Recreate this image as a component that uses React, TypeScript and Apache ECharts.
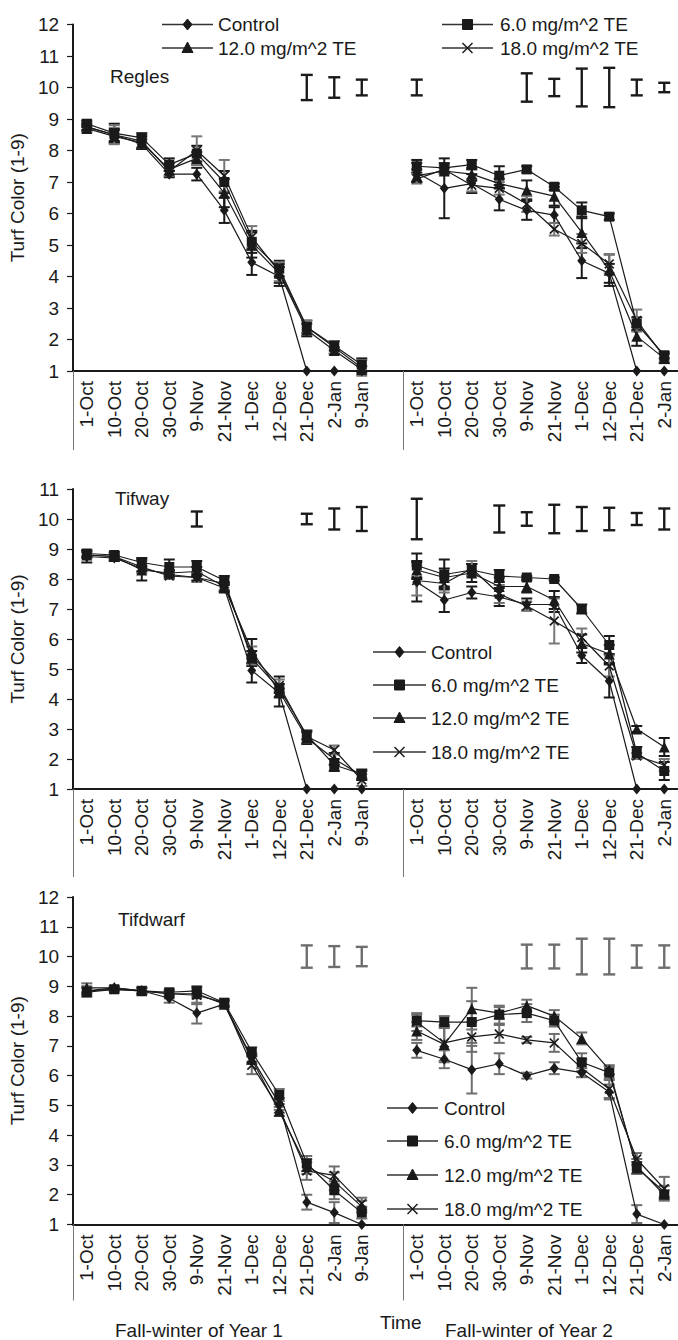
import React, { useEffect, useRef } from "react";
import * as echarts from "echarts";

// ---------- categories ----------
const datesY1 = ["1-Oct", "10-Oct", "20-Oct", "30-Oct", "9-Nov", "21-Nov", "1-Dec", "12-Dec", "21-Dec", "2-Jan", "9-Jan"];
const datesY2 = ["1-Oct", "10-Oct", "20-Oct", "30-Oct", "9-Nov", "21-Nov", "1-Dec", "12-Dec", "21-Dec", "2-Jan"];
const treatments = ["Control", "6.0 mg/m^2 TE", "12.0 mg/m^2 TE", "18.0 mg/m^2 TE"];
const yTicksRegles = [1, 12];
const yTicksTifway = [1, 11];
const yTicksTifdwarf = [1, 12];

// ---------- Regles ----------
const reglesMeanY1 = [
  [8.75, 8.5, 8.2, 7.25, 7.25, 6.1, 4.45, 4.0, 1, 1, 1],
  [8.85, 8.55, 8.4, 7.55, 7.9, 7.0, 5.1, 4.25, 2.4, 1.8, 1.2],
  [8.7, 8.45, 8.25, 7.4, 7.75, 6.65, 5.0, 4.1, 2.3, 1.65, 1.05],
  [8.75, 8.5, 8.3, 7.35, 8.0, 7.2, 5.25, 4.15, 2.4, 1.75, 1.1],
];
const reglesMeanY2 = [
  [7.3, 6.8, 6.95, 6.45, 6.1, 5.95, 4.5, 4.1, 1, 1],
  [7.5, 7.45, 7.55, 7.2, 7.4, 6.85, 6.1, 5.9, 2.5, 1.5],
  [7.2, 7.35, 7.25, 6.95, 6.75, 6.55, 5.4, 4.2, 2.1, 1.4],
  [7.1, 7.4, 6.9, 6.8, 6.3, 5.5, 5.05, 4.4, 2.6, 1.45],
];
const reglesErrY1 = [
  [0.1, 0.2, 0.15, 0.1, 0.2, 0.4, 0.4, 0.3, 0, 0, 0],
  [0.1, 0.3, 0.15, 0.2, 0.25, 0.35, 0.35, 0.25, 0.2, 0.15, 0.2],
  [0.1, 0.2, 0.2, 0.2, 0.2, 0.45, 0.4, 0.3, 0.2, 0.1, 0.1],
  [0.15, 0.3, 0.2, 0.15, 0.45, 0.5, 0.35, 0.3, 0.2, 0.2, 0.25],
];
const reglesErrY2 = [
  [0.3, 0.95, 0.3, 0.35, 0.3, 0.25, 0.55, 0.3, 0, 0],
  [0.2, 0.15, 0.15, 0.3, 0.1, 0.1, 0.25, 0.1, 0.2, 0.1],
  [0.2, 0.1, 0.2, 0.15, 0.3, 0.3, 0.5, 0.5, 0.3, 0.15],
  [0.15, 0.15, 0.2, 0.2, 0.25, 0.2, 0.3, 0.3, 0.35, 0.15],
];
const reglesLsdY1 = [null, null, null, null, null, null, null, null, 0.8, 0.65, 0.5];
const reglesLsdY2 = [0.5, null, null, null, 0.9, 0.55, 1.2, 1.25, 0.5, 0.3];

// ---------- Tifway ----------
const tifwayMeanY1 = [
  [8.75, 8.7, 8.35, 8.15, 8.05, 7.7, 4.95, 4.2, 1, 1, 1],
  [8.85, 8.8, 8.55, 8.4, 8.4, 7.95, 5.35, 4.35, 2.8, 1.8, 1.5],
  [8.8, 8.75, 8.3, 8.2, 8.25, 7.75, 5.6, 4.25, 2.7, 2.0, 1.45],
  [8.8, 8.75, 8.4, 8.1, 8.05, 7.85, 5.45, 4.45, 2.75, 2.3, 1.3],
];
const tifwayMeanY2 = [
  [7.9, 7.3, 7.55, 7.4, 7.15, 7.15, 5.45, 4.6, 1, 1],
  [8.45, 8.15, 8.3, 8.1, 8.05, 8.0, 7.0, 5.8, 2.2, 1.6],
  [8.3, 8.05, 8.2, 7.75, 7.75, 7.3, 5.85, 5.5, 3.0, 2.4],
  [7.95, 7.85, 8.35, 7.5, 7.1, 6.6, 6.05, 5.1, 2.1, 1.8],
];
const tifwayErrY1 = [
  [0.2, 0.1, 0.1, 0.1, 0.1, 0.15, 0.4, 0.15, 0, 0, 0],
  [0.1, 0.1, 0.15, 0.25, 0.2, 0.15, 0.25, 0.15, 0.15, 0.2, 0.15],
  [0.1, 0.1, 0.35, 0.1, 0.15, 0.15, 0.4, 0.5, 0.2, 0.2, 0.15],
  [0.1, 0.1, 0.2, 0.1, 0.15, 0.2, 0.3, 0.2, 0.2, 0.15, 0.2],
];
const tifwayErrY2 = [
  [0.65, 0.4, 0.2, 0.3, 0.2, 0.25, 0.25, 0.55, 0, 0],
  [0.4, 0.5, 0.2, 0.2, 0.05, 0.05, 0.15, 0.3, 0.2, 0.3],
  [0.3, 0.3, 0.3, 0.3, 0.2, 0.3, 0.3, 0.3, 0.1, 0.3],
  [0.5, 0.3, 0.25, 0.3, 0.15, 0.75, 0.3, 0.35, 0.1, 0.2],
];
const tifwayLsdY1 = [null, null, null, null, 0.5, null, null, null, 0.35, 0.7, 0.8];
const tifwayLsdY2 = [1.35, null, null, 0.9, 0.45, 0.95, 0.8, 0.75, 0.4, 0.7];

// ---------- Tifdwarf ----------
const tifdwarfMeanY1 = [
  [8.85, 8.95, 8.85, 8.6, 8.1, 8.4, 6.6, 5.05, 1.75, 1.4, 1.0],
  [8.8, 8.9, 8.85, 8.8, 8.85, 8.45, 6.8, 5.35, 3.05, 2.15, 1.4],
  [8.95, 8.95, 8.85, 8.75, 8.75, 8.4, 6.55, 4.8, 2.95, 2.45, 1.6],
  [8.85, 8.9, 8.85, 8.75, 8.7, 8.45, 6.35, 4.9, 2.8, 2.65, 1.7],
];
const tifdwarfMeanY2 = [
  [6.85, 6.55, 6.2, 6.4, 6.0, 6.25, 6.1, 5.45, 1.35, 1.0],
  [7.85, 7.8, 7.8, 8.05, 8.1, 7.85, 6.45, 6.1, 2.95, 2.0],
  [7.5, 7.05, 8.25, 8.1, 8.35, 8.0, 7.25, 6.2, 2.9, 2.1],
  [7.8, 7.1, 7.3, 7.4, 7.2, 7.1, 6.25, 5.55, 3.2, 2.2],
];
const tifdwarfErrY1 = [
  [0.1, 0.05, 0.1, 0.15, 0.35, 0.1, 0.15, 0.2, 0.25, 0.35, 0],
  [0.15, 0.05, 0.1, 0.1, 0.1, 0.1, 0.15, 0.2, 0.25, 0.3, 0.2],
  [0.15, 0.05, 0.1, 0.1, 0.1, 0.1, 0.15, 0.15, 0.25, 0.3, 0.2],
  [0.15, 0.05, 0.1, 0.1, 0.3, 0.1, 0.3, 0.15, 0.3, 0.3, 0.2],
];
const tifdwarfErrY2 = [
  [0.25, 0.3, 0.8, 0.35, 0.1, 0.2, 0.15, 0.25, 0.3, 0],
  [0.2, 0.2, 0.7, 0.3, 0.3, 0.2, 0.3, 0.2, 0.25, 0.15],
  [0.3, 0.6, 0.7, 0.2, 0.2, 0.2, 0.2, 0.15, 0.2, 0.2],
  [0.3, 0.6, 0.5, 0.3, 0.1, 0.3, 0.3, 0.3, 0.2, 0.4],
];
const tifdwarfLsdY1 = [null, null, null, null, null, null, null, null, 0.75, 0.7, 0.65];
const tifdwarfLsdY2 = [null, null, null, null, 0.8, 0.8, 1.2, 1.2, 0.75, 0.75];

const lsdCenter = 10;

// ---------- styling ----------
const FONT = '"Liberation Sans", Arial, sans-serif';
const FS = 19;
const INK = "#1a1a1a";
const GRAY = "#6e6e6e";
const xSymbol = "path://M0,1.2 L1.2,0 L5,3.8 L8.8,0 L10,1.2 L6.2,5 L10,8.8 L8.8,10 L5,6.2 L1.2,10 L0,8.8 L3.8,5 Z";
const symbols = ["diamond", "rect", "triangle", xSymbol];
const symbolSizes: any[] = [[9, 11], 10, 11, 10];

const categories = [...datesY1, "", ...datesY2];
const year2Start = datesY1.length + 1;

const panels = [
  { name: "Regles", m1: reglesMeanY1, m2: reglesMeanY2, e1: reglesErrY1, e2: reglesErrY2, l1: reglesLsdY1, l2: reglesLsdY2, ticks: yTicksRegles, top: 24.5, height: 346.5, tickLen: 79, titlePos: [110, 76], errColors: [INK, INK, INK, "#777"], lsdColor: INK },
  { name: "Tifway", m1: tifwayMeanY1, m2: tifwayMeanY2, e1: tifwayErrY1, e2: tifwayErrY2, l1: tifwayLsdY1, l2: tifwayLsdY2, ticks: yTicksTifway, top: 489, height: 300, tickLen: 88, titlePos: [115, 498], errColors: [INK, INK, INK, "#777"], lsdColor: INK },
  { name: "Tifdwarf", m1: tifdwarfMeanY1, m2: tifdwarfMeanY2, e1: tifdwarfErrY1, e2: tifdwarfErrY2, l1: tifdwarfLsdY1, l2: tifdwarfLsdY2, ticks: yTicksTifdwarf, top: 897, height: 327.5, tickLen: 76, titlePos: [118, 919], errColors: [GRAY, GRAY, GRAY, GRAY], lsdColor: GRAY },
];

const joinYears = (a: any[], b: any[]) => [...a, null, ...b];

function barRender(capW: number, lw: number, color: string) {
  return (params: any, api: any) => {
    const x = api.value(0);
    const lo = api.coord([x, api.value(1)]);
    const hi = api.coord([x, api.value(2)]);
    const h = capW / 2;
    const st = { stroke: color, lineWidth: lw };
    return {
      type: "group",
      children: [
        { type: "line", shape: { x1: lo[0], y1: lo[1], x2: hi[0], y2: hi[1] }, style: st },
        { type: "line", shape: { x1: lo[0] - h, y1: lo[1], x2: lo[0] + h, y2: lo[1] }, style: st },
        { type: "line", shape: { x1: hi[0] - h, y1: hi[1], x2: hi[0] + h, y2: hi[1] }, style: st },
      ],
    };
  };
}

function markerGraphic(kind: number, cx: number, cy: number): any[] {
  const st = { fill: INK, stroke: INK, lineWidth: 1 };
  if (kind === 0) return [{ type: "polygon", shape: { points: [[cx, cy - 5.5], [cx + 4.5, cy], [cx, cy + 5.5], [cx - 4.5, cy]] }, style: st }];
  if (kind === 1) return [{ type: "rect", shape: { x: cx - 5, y: cy - 5, width: 10, height: 10 }, style: st }];
  if (kind === 2) return [{ type: "polygon", shape: { points: [[cx, cy - 6], [cx + 5.5, cy + 4.5], [cx - 5.5, cy + 4.5]] }, style: st }];
  return [
    { type: "line", shape: { x1: cx - 5, y1: cy - 5, x2: cx + 5, y2: cy + 5 }, style: { stroke: INK, lineWidth: 1.5 } },
    { type: "line", shape: { x1: cx - 5, y1: cy + 5, x2: cx + 5, y2: cy - 5 }, style: { stroke: INK, lineWidth: 1.5 } },
  ];
}

function legendItem(kind: number, x0: number, x1: number, tx: number, y: number): any[] {
  return [
    { type: "line", shape: { x1: x0, y1: y, x2: x1, y2: y }, style: { stroke: "#333", lineWidth: 1.3 } },
    ...markerGraphic(kind, (x0 + x1) / 2, y),
    { type: "text", x: tx, y: y, style: { text: treatments[kind], fill: INK, font: `${FS}px ${FONT}`, verticalAlign: "middle", align: "left" } },
  ];
}

function buildOption() {
  const grid: any[] = [];
  const xAxis: any[] = [];
  const yAxis: any[] = [];
  const series: any[] = [];
  const graphic: any[] = [];

  panels.forEach((p, k) => {
    grid.push({ left: 66, width: 613, top: p.top, height: p.height });
    xAxis.push({
      type: "category",
      gridIndex: k,
      data: categories,
      boundaryGap: true,
      axisLine: { show: true, onZero: false, lineStyle: { color: INK, width: 2 } },
      axisTick: {
        show: true,
        interval: (i: number) => i === 0 || i === year2Start,
        length: p.tickLen,
        lineStyle: { color: "#777", width: 1 },
      },
      axisLabel: { interval: 0, rotate: 90, margin: 10, color: INK, fontSize: FS, fontFamily: FONT },
      splitLine: { show: false },
    });
    yAxis.push({
      type: "value",
      gridIndex: k,
      min: p.ticks[0],
      max: p.ticks[1],
      interval: 1,
      name: "Turf Color (1-9)",
      nameLocation: "middle",
      nameGap: 38,
      nameTextStyle: { color: INK, fontSize: FS, fontFamily: FONT },
      axisLine: { show: true, lineStyle: { color: INK, width: 2 } },
      axisTick: { show: true, length: 6, lineStyle: { color: INK, width: 1.2 } },
      axisLabel: { color: INK, fontSize: FS, fontFamily: FONT, margin: 14 },
      splitLine: { show: false },
    });

    // error bars
    treatments.forEach((t, s) => {
      const means = joinYears(p.m1[s], p.m2[s]);
      const errs = joinYears(p.e1[s], p.e2[s]);
      const data: any[] = [];
      means.forEach((v: any, i: number) => {
        const e = errs[i];
        if (v != null && e) data.push([i, v - e, v + e]);
      });
      series.push({
        type: "custom",
        name: t + " err",
        xAxisIndex: k,
        yAxisIndex: k,
        renderItem: barRender(11, 2, p.errColors[s]),
        encode: { x: 0, y: [1, 2] },
        data,
        z: 3,
        silent: true,
      });
    });

    // lines
    treatments.forEach((t, s) => {
      series.push({
        type: "line",
        name: t,
        xAxisIndex: k,
        yAxisIndex: k,
        data: joinYears(p.m1[s], p.m2[s]),
        symbol: symbols[s],
        symbolSize: symbolSizes[s],
        showAllSymbol: true,
        connectNulls: false,
        clip: false,
        lineStyle: { color: INK, width: 1.2 },
        itemStyle: { color: INK, borderWidth: 0 },
        z: 4,
      });
    });

    // LSD bars
    const lsd = joinYears(p.l1, p.l2);
    const lsdData: any[] = [];
    lsd.forEach((l: any, i: number) => {
      if (l != null) lsdData.push([i, lsdCenter - l / 2, lsdCenter + l / 2]);
    });
    series.push({
      type: "custom",
      name: "LSD",
      xAxisIndex: k,
      yAxisIndex: k,
      renderItem: barRender(12, 2.4, p.lsdColor),
      encode: { x: 0, y: [1, 2] },
      data: lsdData,
      z: 3,
      silent: true,
    });

    graphic.push({
      type: "text",
      x: p.titlePos[0],
      y: p.titlePos[1],
      style: { text: p.name, fill: INK, font: `${FS}px ${FONT}`, verticalAlign: "middle", align: "left" },
    });
  });

  // legends
  legendItem(0, 162, 213, 218, 24.5).forEach((g) => graphic.push(g));
  legendItem(2, 162, 213, 218, 48).forEach((g) => graphic.push(g));
  legendItem(1, 442, 493, 500, 24.5).forEach((g) => graphic.push(g));
  legendItem(3, 442, 493, 500, 48).forEach((g) => graphic.push(g));
  [652, 685, 718, 752].forEach((y, i) => legendItem(i, 373, 426, 431, y).forEach((g) => graphic.push(g)));
  [1108, 1141, 1175, 1209].forEach((y, i) => legendItem(i, 387, 438, 444, y).forEach((g) => graphic.push(g)));

  // bottom titles
  graphic.push({ type: "text", x: 115, y: 1330, style: { text: "Fall-winter of Year 1", fill: INK, font: `${FS}px ${FONT}`, verticalAlign: "middle", align: "left" } });
  graphic.push({ type: "text", x: 380, y: 1322, style: { text: "Time", fill: INK, font: `${FS}px ${FONT}`, verticalAlign: "middle", align: "left" } });
  graphic.push({ type: "text", x: 445, y: 1330, style: { text: "Fall-winter of Year 2", fill: INK, font: `${FS}px ${FONT}`, verticalAlign: "middle", align: "left" } });

  return {
    animation: false,
    backgroundColor: "#ffffff",
    textStyle: { fontFamily: FONT },
    grid,
    xAxis,
    yAxis,
    series,
    graphic,
  };
}

export default function App() {
  const ref = useRef<HTMLDivElement>(null);
  useEffect(() => {
    if (!ref.current) return;
    const chart = echarts.init(ref.current, null, { renderer: "svg" });
    chart.setOption(buildOption() as any);
    return () => chart.dispose();
  }, []);
  return (
    <div
      ref={ref}
      style={{ position: "absolute", left: 0, top: 0, width: 678, height: 1340, background: "#fff" }}
    />
  );
}
